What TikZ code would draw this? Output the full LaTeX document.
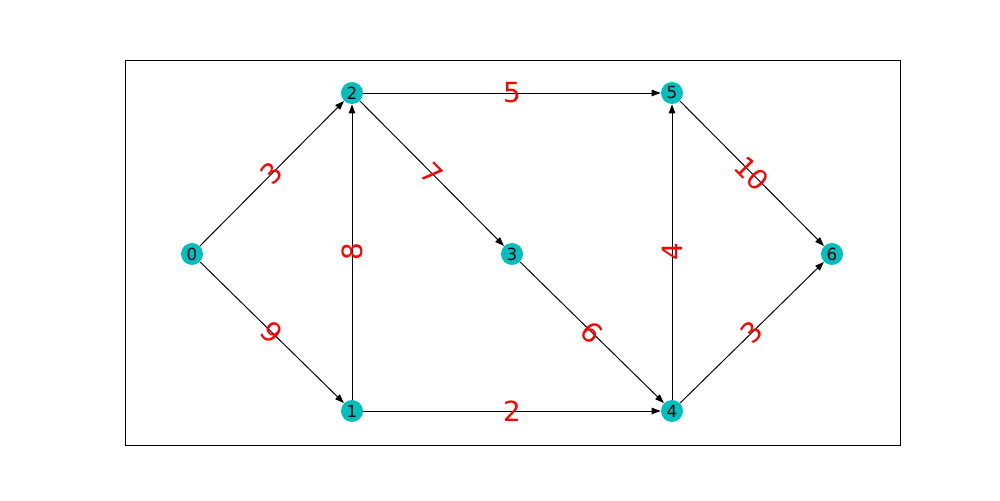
\documentclass[tikz,border=0pt]{standalone}
\usepackage{fontspec}
\setmainfont{DejaVu Sans}
\usepackage{tikz}
\usetikzlibrary{arrows.meta}
\definecolor{nodecyan}{HTML}{00BFBF}

\begin{document}
\begin{tikzpicture}[
    x=0.02cm,y=0.02cm,
    v/.style={circle,fill=nodecyan,minimum size=4.4mm,inner sep=0pt,font=\fontsize{9.5}{10}\selectfont},
    e/.style={-{Triangle[length=1.8mm,width=1.3mm]},line width=.55pt,black},
    w/.style={midway,sloped,text=red,inner sep=0pt,font=\fontsize{15.8}{16}\selectfont}
  ]
    \useasboundingbox (0,0) rectangle (1000,500);
    \draw[line width=.55pt] (125,55) rectangle (900,440);
    \node[v] (n0) at (192,246) {0};
    \node[v] (n1) at (352,89) {1}; \node[v] (n2) at (352,407) {2};
    \node[v] (n3) at (512,246) {3};
    \node[v] (n4) at (672,89) {4}; \node[v] (n5) at (672,407) {5};
    \node[v] (n6) at (832,246) {6};
    \foreach \s/\t/\c in {n0/n2/3,n0/n1/9,n1/n2/8,n1/n4/2,n2/n5/5,n2/n3/7,n3/n4/6,n4/n5/4,n5/n6/10,n4/n6/3} {\draw[e] (\s)--(\t) node[w] {\c};}
  \end{tikzpicture}
\end{document}
